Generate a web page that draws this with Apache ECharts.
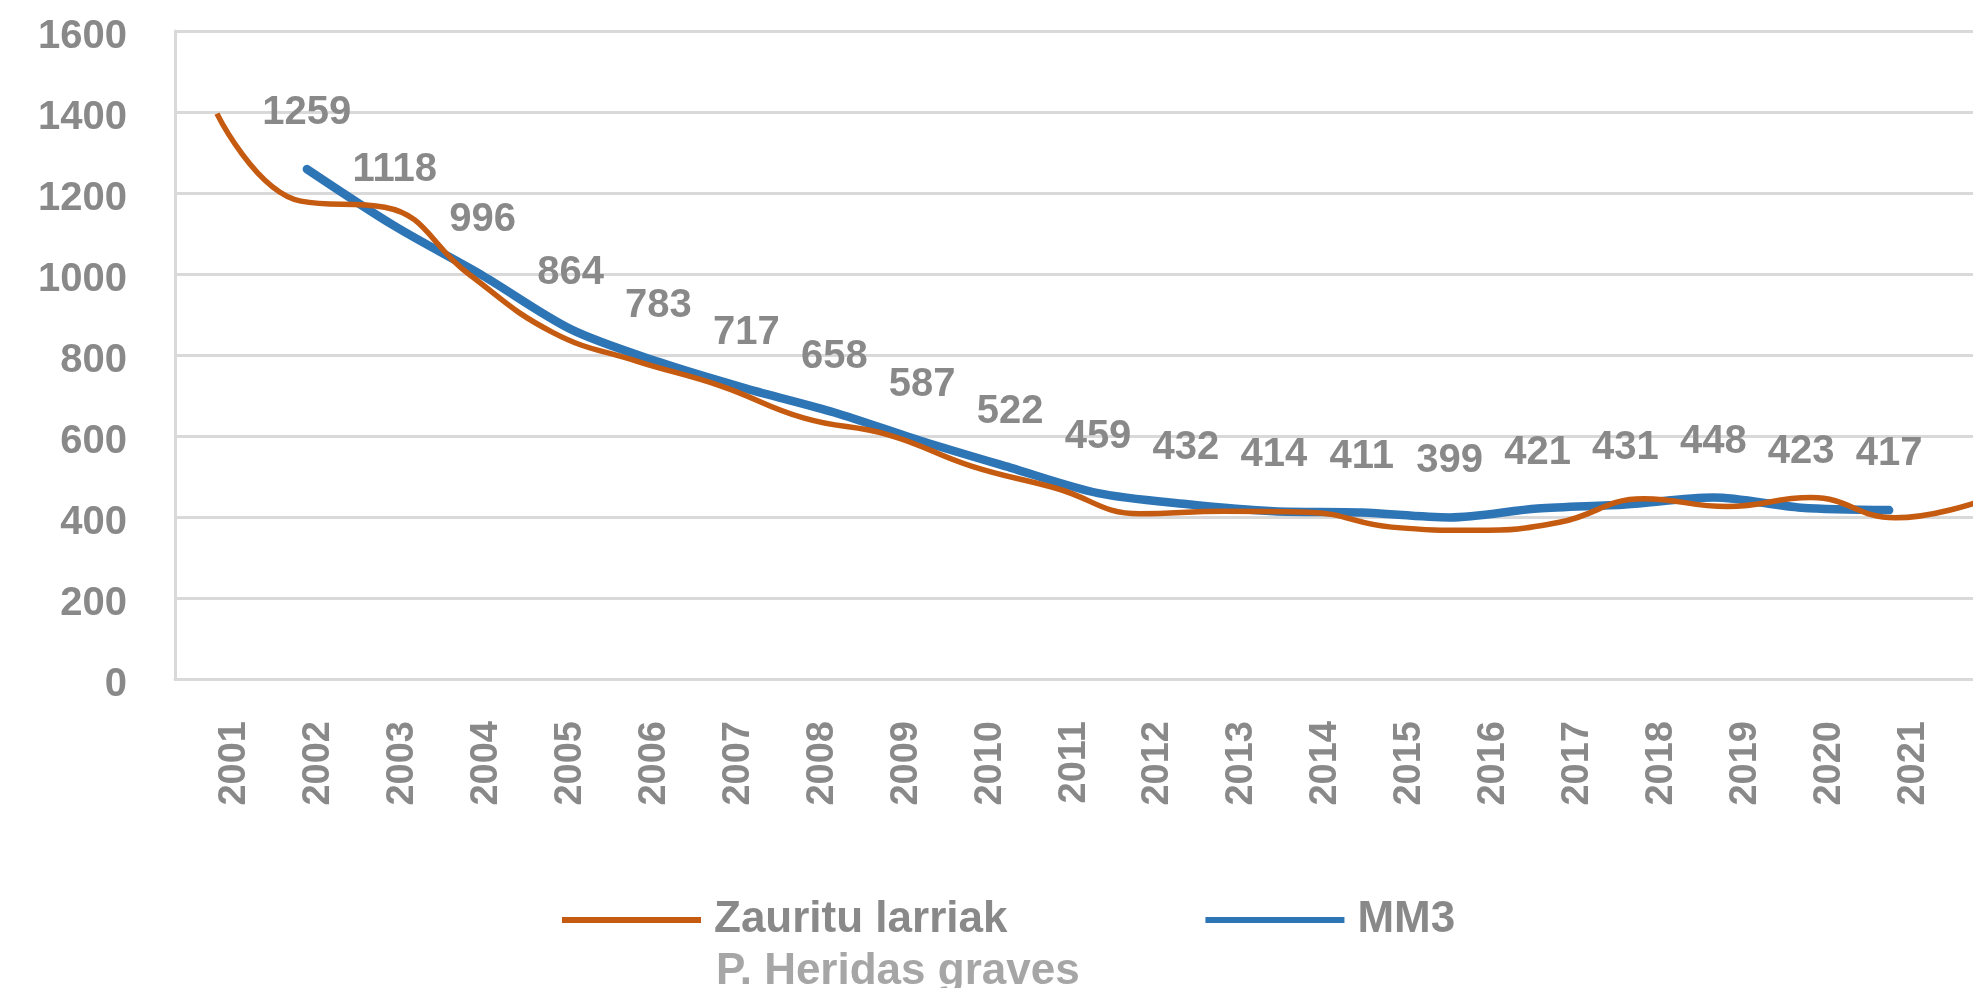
<!DOCTYPE html>
<html lang="eu">
<head>
  <meta charset="UTF-8">
  <title>Zauritu larriak</title>
  <script src="https://cdn.jsdelivr.net/npm/echarts@6/dist/echarts.min.js"></script>
  <style>
    html, body { margin: 0; padding: 0; overflow: hidden; background: #fff; }
    #main { width: 2030px; height: 988px; }
  </style>
</head>
<body>
<div id="main"></div>
<script>
  // urteak (ardatz nagusia)
  var years = ['2001','2002','2003','2004','2005','2006','2007','2008','2009','2010','2011',
               '2012','2013','2014','2015','2016','2017','2018','2019','2020','2021','2022'];
  // MM3 seriea bigarren ardatzean (21 kategoria)
  var mm3Years = ['2001','2002','2003','2004','2005','2006','2007','2008','2009','2010','2011',
                  '2012','2013','2014','2015','2016','2017','2018','2019','2020','2021'];

  var zaurituLarriak = [1396, 1180, 1165, 1000, 856, 785, 724, 644, 603, 525, 471,
                        408, 414, 412, 375, 367, 387, 445, 426, 448, 398, 438];
  var mm3 = [null, 1259, 1118, 996, 864, 783, 717, 658, 587, 522, 459,
             432, 414, 411, 399, 421, 431, 448, 423, 417, null];

  var grey = '#898989';
  var font = '"Liberation Sans", Arial, Helvetica, sans-serif';

  var chart = echarts.init(document.getElementById('main'));

  chart.setOption({
    animation: false,
    grid: { left: 175, right: 9, top: 31, bottom: 309 },
    legend: {
      data: ['Zauritu larriak', 'MM3'],
      left: 557, top: 893,
      icon: 'rect', itemWidth: 139, itemHeight: 6, itemGap: 198,
      textStyle: { color: grey, fontSize: 44, fontWeight: 'bold', fontFamily: font, padding: [0, 0, 0, 8] }
    },
    title: {
      text: 'P. Heridas graves',
      left: 711, top: 945,
      textStyle: { color: '#a6a6a6', fontSize: 44, fontWeight: 'bold', fontFamily: font }
    },
    xAxis: [{
      type: 'category',
      data: years,
      axisLine: { lineStyle: { color: '#d9d9d9', width: 3 } },
      axisTick: { show: false },
      axisLabel: {
        interval: 0, rotate: 90, margin: 42,
        formatter: function (v) { return '{y|' + v + '}'; },
        rich: { y: { padding: [36, 0, 0, 0], color: grey, fontSize: 38, fontWeight: 'bold', fontFamily: font } }
      }
    }, {
      type: 'category',
      data: mm3Years,
      show: false
    }],
    yAxis: {
      type: 'value',
      min: 0, max: 1600, interval: 200,
      axisLine: { show: true, lineStyle: { color: '#d9d9d9', width: 3 } },
      splitLine: { lineStyle: { color: '#d9d9d9', width: 3 } },
      axisLabel: {
        margin: 48,
        formatter: function (v) { return '{v|' + v + '}'; },
        rich: { v: { padding: [12, 0, 0, 0], color: grey, fontSize: 40, fontWeight: 'bold', fontFamily: font } }
      }
    },
    series: [{
      name: 'MM3',
      type: 'line',
      xAxisIndex: 1,
      data: mm3,
      smooth: 0.3,
      symbol: 'circle', symbolSize: 0,
      lineStyle: { color: '#2E75B6', width: 8.5, cap: 'round' },
      itemStyle: { color: '#2E75B6' },
      label: {
        show: true, position: 'top', distance: 36,
        color: grey, fontSize: 40, fontWeight: 'bold', fontFamily: font
      }
    }, {
      name: 'Zauritu larriak',
      type: 'line',
      data: zaurituLarriak,
      smooth: 0.45,
      symbol: 'none',
      lineStyle: { color: '#C55A11', width: 5.5 },
      itemStyle: { color: '#C55A11' }
    }]
  });
</script>
</body>
</html>
